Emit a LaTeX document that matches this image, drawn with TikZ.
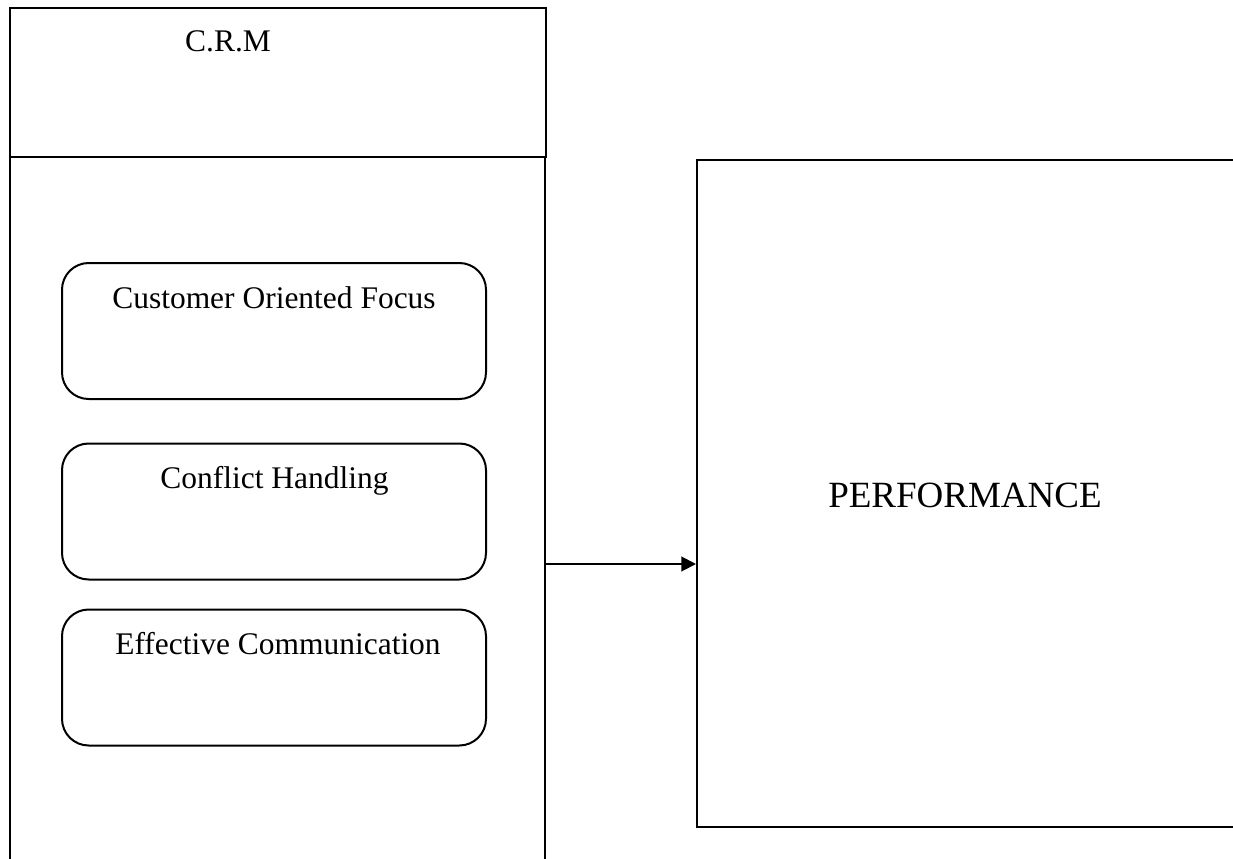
\documentclass[tikz,border=0pt]{standalone}
\usepackage{fontspec}
\setmainfont{Liberation Serif}
\usetikzlibrary{arrows.meta}

\begin{document}
\begin{tikzpicture}[x=0.75pt, y=-0.75pt, line width=1.5pt,
                    outer box/.style={rectangle,draw,inner sep=0pt},
                    factor box/.style={rectangle,draw,rounded corners=20pt,inner sep=0pt,
                                       minimum width=318pt,minimum height=102pt},
                    label text/.style={anchor=base,inner sep=0pt,font=\fontsize{23.6}{28}\selectfont}]

  \useasboundingbox (0,0) rectangle (1233,858);
  \clip (0,0) rectangle (1233,858);

  \node[outer box,minimum width=402pt,minimum height=111.75pt] (crm) at (278,82.5) {};
  \node[outer box,minimum width=401.25pt,minimum height=557.25pt] (body) at (277.5,528.5) {};
  \node[outer box,minimum width=422.25pt,minimum height=500.25pt] (perf) at (978.5,493.5) {};

  \node[factor box] (focus) at (274,331) {};
    \node[factor box] (conflict) at (274,511.5) {};
      \node[factor box] (comm) at (274,677.5) {};

  \node[label text] (crmtext) at (228,51) {C.R.M};
  \node[label text] (focustext) at (274,308) {Customer Oriented Focus};
  \node[label text] (conflicttext) at (274.5,488) {Conflict Handling};
  \node[label text] (commtext) at (278,654) {Effective Communication};
  \node[label text,font=\fontsize{27.75}{33}\selectfont] (perftext) at (965,507) {PERFORMANCE};

  \coordinate (mid) at (620,564);
  \draw[-{Triangle[length=11pt,width=11pt]}] (body.east |- mid) -- (perf.west |- mid);

\end{tikzpicture}
\end{document}
